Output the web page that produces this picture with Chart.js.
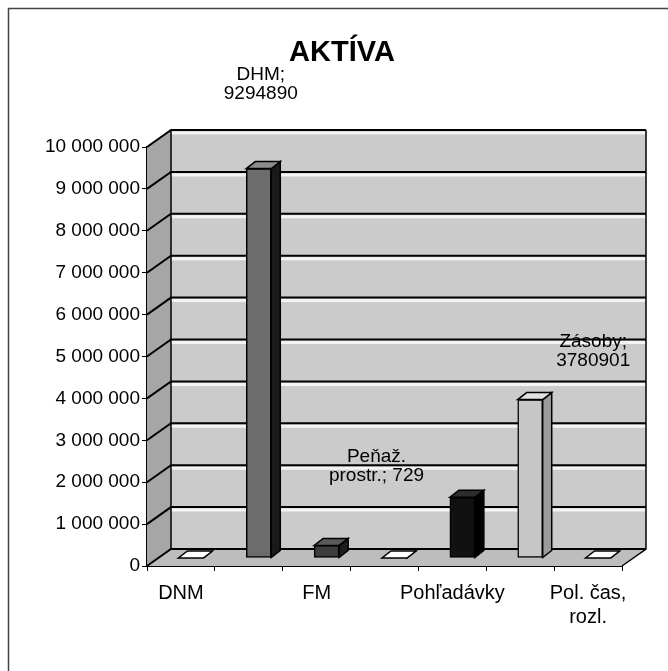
<!DOCTYPE html>
<html lang="sk">
<head>
<meta charset="UTF-8">
<title>AKTÍVA</title>
<script src="https://cdn.jsdelivr.net/npm/chart.js@4.4.1/dist/chart.umd.min.js"></script>
<style>
    html, body { margin: 0; padding: 0; background: #fff; }
    #contenedor { width: 668px; height: 671px; position: relative; }
</style>
</head>
<body>
<div id="contenedor"><canvas id="graficoAktiva"></canvas></div>
<script>
// Datos
const titulo = 'AKTÍVA';
const categorias = ['DNM', 'DHM', 'FM', 'Peňaž. prostr.', 'Pohľadávky', 'Zásoby', 'Pol. čas. rozl.'];
const valores = [0, 9294890, 300000, 729, 1450000, 3780901, 0];
const etiquetasEje = ['DNM', '', 'FM', '', 'Pohľadávky', '', ['Pol. čas,', 'rozl.']];
const etiquetasDatos = [null, ['DHM;', '9294890'], null, ['Peňaž.', 'prostr.; 729'], null, ['Zásoby;', '3780901'], null];
const ejeMin = 0;
const ejeMax = 10000000;
const ejePaso = 1000000;

// Colores de cada barra (frente, lado, tapa)
const colorFrente = ['#ffffff', '#6c6c6c', '#3c3c3c', '#ffffff', '#111111', '#c6c6c6', '#ffffff'];
const colorLado   = ['#ffffff', '#1a1a1a', '#1e1e1e', '#ffffff', '#000000', '#9c9c9c', '#ffffff'];
const colorTapa   = ['#ffffff', '#8c8c8c', '#5a5a5a', '#ffffff', '#2c2c2c', '#e2e2e2', '#ffffff'];

const FUENTE = "'Liberation Sans', Arial, sans-serif";
const fondo = { dx: 24, dy: 17 };      // profundidad de las paredes
const barra3d = { dx: 9, dy: 7, mx: 10, my: 8 }; // profundidad de barras y desplazamiento
const posEtiquetas = [null, [12, -102], null, [-8, -109], null, [73, -66], null];

function formatoMiles(v) {
    return String(v).replace(/\B(?=(\d{3})+(?!\d))/g, ' ');
}

// Marco de la hoja escaneada y título
const pluginMarco = {
    id: 'marco',
    beforeDraw(chart) {
        const ctx = chart.ctx;
        ctx.save();
        ctx.fillStyle = '#fff';
        ctx.fillRect(0, 0, chart.width, chart.height);
        ctx.strokeStyle = '#444';
        ctx.lineWidth = 1.5;
        ctx.strokeRect(8.5, 8.5, chart.width + 20, chart.height + 20);
        ctx.font = 'bold 29px ' + FUENTE;
        ctx.fillStyle = '#000';
        ctx.textAlign = 'center';
        ctx.textBaseline = 'middle';
        ctx.fillText(titulo, 342, 53);
        ctx.restore();
    }
};

// Paredes, piso y líneas de cuadrícula en "3D"
const pluginParedes = {
    id: 'paredes',
    beforeDatasetsDraw(chart) {
        const { ctx, chartArea: a, scales: { y } } = chart;
        const { dx, dy } = fondo;
        ctx.save();
        // pared del fondo
        ctx.fillStyle = '#cbcbcb';
        ctx.fillRect(a.left + dx, a.top - dy, a.right - a.left, a.bottom - a.top);
        // pared izquierda
        ctx.fillStyle = '#a6a6a6';
        ctx.beginPath();
        ctx.moveTo(a.left, a.bottom);
        ctx.lineTo(a.left, a.top);
        ctx.lineTo(a.left + dx, a.top - dy);
        ctx.lineTo(a.left + dx, a.bottom - dy);
        ctx.closePath();
        ctx.fill();
        // piso
        ctx.fillStyle = '#bdbdbd';
        ctx.beginPath();
        ctx.moveTo(a.left, a.bottom);
        ctx.lineTo(a.right, a.bottom);
        ctx.lineTo(a.right + dx, a.bottom - dy);
        ctx.lineTo(a.left + dx, a.bottom - dy);
        ctx.closePath();
        ctx.fill();

        // cuadrícula
        y.ticks.forEach(t => {
            const py = y.getPixelForValue(t.value);
            if (t.value > ejeMin) {
                ctx.strokeStyle = '#f4f4f4';
                ctx.lineWidth = 3;
                ctx.beginPath();
                ctx.moveTo(a.left + dx, py - dy + 3);
                ctx.lineTo(a.right + dx, py - dy + 3);
                ctx.stroke();
            }
            ctx.strokeStyle = '#000';
            ctx.lineWidth = 2;
            ctx.beginPath();
            ctx.moveTo(a.left, py);
            ctx.lineTo(a.left + dx, py - dy);
            ctx.lineTo(a.right + dx, py - dy);
            ctx.stroke();
        });
        // bordes
        ctx.lineWidth = 1.5;
        ctx.beginPath();
        ctx.moveTo(a.left + dx, a.top - dy);
        ctx.lineTo(a.left + dx, a.bottom - dy);
        ctx.moveTo(a.right + dx, a.top - dy);
        ctx.lineTo(a.right + dx, a.bottom - dy);
        ctx.lineTo(a.right, a.bottom);
        ctx.stroke();
        ctx.restore();

        // las barras se dibujan a media profundidad
        ctx.save();
        ctx.translate(barra3d.mx, -barra3d.my);
    },
    afterDatasetsDraw(chart) {
        const ctx = chart.ctx;
        const { dx, dy } = barra3d;
        chart.getDatasetMeta(0).data.forEach((el, i) => {
            const { x, y, base, width } = el.getProps(['x', 'y', 'base', 'width'], true);
            const l = x - width / 2, r = x + width / 2;
            ctx.strokeStyle = '#000';
            ctx.lineWidth = 1.5;
            // lado derecho
            ctx.fillStyle = colorLado[i];
            ctx.beginPath();
            ctx.moveTo(r, y);
            ctx.lineTo(r + dx, y - dy);
            ctx.lineTo(r + dx, base - dy);
            ctx.lineTo(r, base);
            ctx.closePath();
            ctx.fill();
            ctx.stroke();
            // tapa
            ctx.fillStyle = colorTapa[i];
            ctx.beginPath();
            ctx.moveTo(l, y);
            ctx.lineTo(r, y);
            ctx.lineTo(r + dx, y - dy);
            ctx.lineTo(l + dx, y - dy);
            ctx.closePath();
            ctx.fill();
            ctx.stroke();
        });
        ctx.restore();

        // etiquetas de datos
        ctx.save();
        ctx.font = '19px ' + FUENTE;
        ctx.fillStyle = '#000';
        ctx.textAlign = 'center';
        ctx.textBaseline = 'middle';
        chart.getDatasetMeta(0).data.forEach((el, i) => {
            const texto = etiquetasDatos[i];
            if (!texto) return;
            const [ox, oy] = posEtiquetas[i];
            texto.forEach((linea, k) => {
                ctx.fillText(linea, el.x + ox, el.y + oy + k * 19);
            });
        });
        ctx.restore();
    }
};

const ctx = document.getElementById('graficoAktiva').getContext('2d');
new Chart(ctx, {
    type: 'bar',
    data: {
        labels: categorias,
        datasets: [{
            label: 'Aktíva',
            data: valores,
            backgroundColor: colorFrente,
            borderColor: '#000',
            borderWidth: 1.5,
            borderSkipped: false,
            barThickness: 25
        }]
    },
    options: {
        responsive: true,
        maintainAspectRatio: false,
        animation: false,
        layout: { padding: { left: 0, right: 46, top: 147, bottom: 32 } },
        plugins: {
            legend: { display: false },
            tooltip: { enabled: false },
            title: { display: false }
        },
        scales: {
            x: {
                grid: { drawOnChartArea: false, tickLength: 5, color: '#000', offset: true },
                border: { color: '#000', width: 2 },
                ticks: {
                    autoSkip: false,
                    maxRotation: 0,
                    padding: 10,
                    color: '#000',
                    font: { family: FUENTE, size: 20 },
                    callback: (v, i) => etiquetasEje[i]
                }
            },
            y: {
                min: ejeMin,
                max: ejeMax,
                afterFit: s => { s.width = 147; },
                grid: { drawOnChartArea: false, tickLength: 5, color: '#000' },
                border: { color: '#000', width: 2 },
                ticks: {
                    stepSize: ejePaso,
                    padding: 2,
                    color: '#000',
                    font: { family: FUENTE, size: 19 },
                    callback: v => formatoMiles(v)
                }
            }
        }
    },
    plugins: [pluginMarco, pluginParedes]
});
</script>
</body>
</html>
